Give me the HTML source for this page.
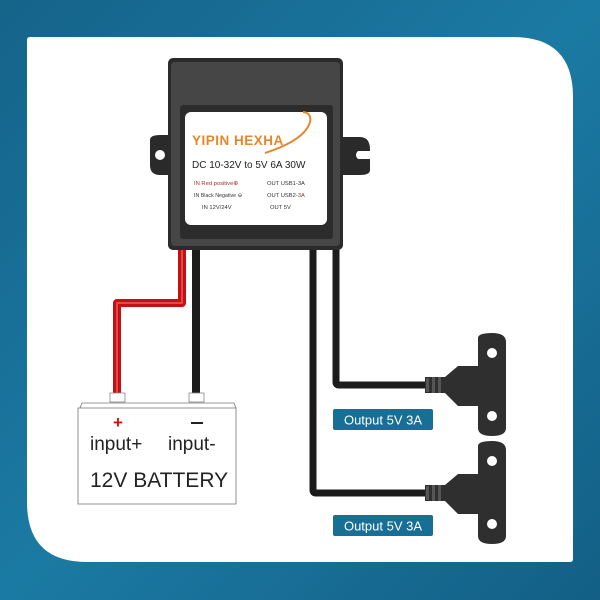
<!DOCTYPE html>
<html><head><meta charset="utf-8"><style>
html,body{margin:0;padding:0;width:600px;height:600px;overflow:hidden}
svg{display:block}
text{font-family:"Liberation Sans",sans-serif}
</style></head><body>
<svg width="600" height="600" viewBox="0 0 600 600" xmlns="http://www.w3.org/2000/svg">
<defs>
<linearGradient id="bg" x1="0" y1="0" x2="1" y2="1">
<stop offset="0" stop-color="#15638a"/><stop offset="0.5" stop-color="#1b7aa3"/><stop offset="1" stop-color="#135f86"/>
</linearGradient>
<g id="conn">
<path d="M425 377 L445 377 L458 366 L478 366 L478 338 Q478 333 492 333 Q506 333 506 342 L506 428 Q506 436 492 436 Q478 436 478 428 L478 406 L458 406 L445 393 L425 393 Z" fill="#2f2f2f"/>
<rect x="426" y="378" width="3" height="14" fill="#555"/><rect x="432" y="377" width="3" height="16" fill="#555"/><rect x="438" y="377" width="3" height="16" fill="#555"/>
<circle cx="492" cy="353" r="5" fill="#fff"/><circle cx="492" cy="416" r="5" fill="#fff"/>
</g>
</defs>
<rect width="600" height="600" fill="url(#bg)"/>
<path d="M30 37 L513 37 Q573 37 573 97 L573 559 Q573 562 570 562 L87 562 Q27 562 27 502 L27 40 Q27 37 30 37 Z" fill="#fff"/>
<!-- wires -->
<path d="M182 240 L182 303 L117 303 L117 395" fill="none" stroke="#c41010" stroke-width="8" stroke-linejoin="round" stroke-linecap="round"/>
<path d="M182 240 L182 303 L117 303 L117 395" fill="none" stroke="#f07070" stroke-width="2" stroke-linejoin="round" opacity="0.6"/>
<path d="M196 240 L196 395" fill="none" stroke="#1c1c1c" stroke-width="8" stroke-linecap="round"/>
<path d="M313 240 L313 490 Q313 493 316 493 L428 493" fill="none" stroke="#1c1c1c" stroke-width="7"/>
<path d="M336 240 L336 382 Q336 385 339 385 L428 385" fill="none" stroke="#1c1c1c" stroke-width="7"/>
<use href="#conn"/>
<use href="#conn" transform="translate(0,108)"/>
<!-- device -->
<path d="M150 140 Q150 135 160 135 L178 135 L178 175 L160 175 Q150 175 150 165 Z" fill="#2a2a2a"/>
<circle cx="160" cy="155" r="5" fill="#fff"/>
<path d="M335 137 L360 137 Q370 137 370 150 L370 170 Q370 175 360 175 L335 175 Z" fill="#2a2a2a"/>
<path d="M370 151 L358 151 Q354 155 358 159 L370 159 Z" fill="#fff"/>
<rect x="168" y="58" width="175" height="192" rx="5" fill="#2b2b2b"/>
<rect x="171" y="62" width="169" height="184" rx="4" fill="#464646"/>
<rect x="180" y="105" width="153" height="134" rx="3" fill="#2c2c2c"/>
<rect x="185" y="112" width="142" height="113" rx="6" fill="#fff"/>
<path d="M265 153 Q305 140 310 122 Q312 113 303 112" fill="none" stroke="#e8862a" stroke-width="2"/>
<text x="192" y="145" font-size="13.5" fill="#e8862a" font-weight="bold" letter-spacing="0.5">YIPIN HEXHA</text>
<text x="192" y="168" font-size="10" fill="#222">DC 10-32V to 5V 6A 30W</text>
<text x="194" y="185" font-size="5.8" fill="#a03030">IN Red positive⊕</text>
<text x="267" y="185" font-size="5.8" fill="#333">OUT USB1-3A</text>
<text x="194" y="197" font-size="5.3" fill="#333">IN Black Negative ⊖</text>
<text x="267" y="197" font-size="5.8" fill="#333">OUT USB2-<tspan fill="#a03030">3A</tspan></text>
<text x="202" y="209" font-size="5.8" fill="#333">IN 12V/24V</text>
<text x="270" y="209" font-size="5.8" fill="#333">OUT 5V</text>
<!-- battery -->
<rect x="110" y="393" width="15" height="9" fill="#fff" stroke="#888" stroke-width="0.8"/>
<rect x="189" y="393" width="15" height="9" fill="#fff" stroke="#888" stroke-width="0.8"/>
<path d="M80 408 L82 403 L234 403 L236 408" fill="#fff" stroke="#777" stroke-width="0.8"/>
<rect x="78" y="408" width="158" height="96" fill="#fff" stroke="#777" stroke-width="0.8"/>
<text x="118" y="428" font-size="17" fill="#d01010" text-anchor="middle" font-weight="bold">+</text>
<rect x="191" y="422" width="12" height="2" fill="#222"/>
<text x="90" y="450" font-size="19" fill="#222">input+</text>
<text x="168" y="450" font-size="19" fill="#222">input-</text>
<text x="90" y="487" font-size="21" fill="#222">12V BATTERY</text>
<!-- labels -->
<rect x="333" y="409" width="100" height="21" rx="2" fill="#176f96"/>
<text x="383" y="424.5" font-size="13" fill="#fff" text-anchor="middle">Output 5V 3A</text>
<rect x="333" y="515" width="100" height="21" rx="2" fill="#176f96"/>
<text x="383" y="530.5" font-size="13" fill="#fff" text-anchor="middle">Output 5V 3A</text>
</svg>
</body></html>
